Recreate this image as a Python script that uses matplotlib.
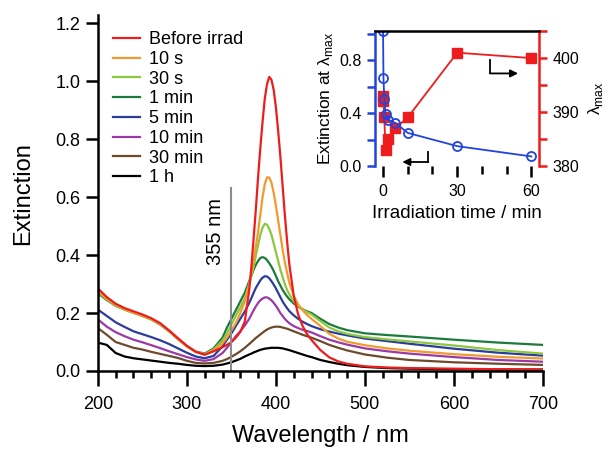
import numpy as np
import matplotlib
matplotlib.use('Agg')
import matplotlib.pyplot as plt
from matplotlib.ticker import MultipleLocator

plt.rcParams['font.family'] = ['Liberation Sans', 'DejaVu Sans']
plt.rcParams['mathtext.fontset'] = 'custom'
plt.rcParams['mathtext.rm'] = 'Liberation Sans'

# wavelength grid (nm)
wl = [200, 210, 220, 230, 240, 250, 260, 270, 280, 290, 300, 310, 320, 330, 340,
      345, 350, 355, 360, 365, 370, 372.5, 375, 377.5, 380, 382.5, 385, 387.5, 390,
      392.5, 395, 397.5, 400, 402.5, 405, 407.5, 410, 412.5, 415,
      420, 425, 430, 435, 440,
      450, 460, 470, 480, 500, 525, 550, 600, 650, 700]

before = [.285, .255, .232, .217, .206, .195, .182, .165, .140, .113, .087, .066, .056, .068, .082,
          .090, .100, .115, .135, .170, .280, .360, .460, .560, .670, .770, .860, .940, .990,
          1.015, 1.005, .970, .910, .830, .740, .640, .540, .450, .370,
          .260, .195, .155, .127, .107,
          .072, .047, .033, .025, .016, .012, .010, .008, .006, .005]
s10 = [.278, .250, .228, .213, .202, .191, .179, .162, .138, .111, .085, .066, .057, .072, .095,
       .115, .140, .165, .200, .240, .300, .340, .380, .430, .480, .540, .600, .645, .668,
       .668, .650, .615, .570, .520, .470, .420, .375, .340, .305,
       .260, .230, .210, .193, .180,
       .155, .128, .112, .101, .089, .078, .070, .058, .049, .043]
s30 = [.272, .247, .226, .212, .201, .190, .178, .161, .137, .110, .085, .066, .058, .074, .105,
       .130, .160, .190, .220, .250, .300, .330, .360, .400, .435, .470, .495, .508, .505,
       .490, .470, .440, .410, .380, .350, .325, .300, .280, .265,
       .240, .225, .213, .203, .195,
       .172, .150, .137, .128, .117, .109, .102, .088, .072, .060]
m1 = [.268, .245, .225, .212, .201, .190, .178, .160, .137, .110, .085, .067, .060, .078, .115,
      .150, .180, .210, .240, .270, .310, .330, .350, .367, .380, .390, .393, .390, .383,
      .372, .360, .345, .328, .310, .295, .280, .268, .257, .248,
      .233, .222, .213, .206, .200,
      .180, .162, .150, .141, .130, .124, .119, .108, .098, .090]
m5 = [.212, .190, .168, .152, .137, .127, .117, .106, .093, .078, .063, .050, .044, .052, .085,
      .108, .130, .155, .180, .205, .235, .252, .270, .287, .300, .313, .322, .327, .326,
      .320, .310, .298, .285, .270, .255, .240, .228, .217, .207,
      .192, .180, .170, .162, .155,
      .144, .136, .129, .123, .112, .103, .094, .077, .063, .053]
m10 = [.178, .153, .134, .120, .108, .099, .089, .079, .068, .058, .048, .040, .035, .041, .062,
       .080, .100, .120, .137, .157, .180, .195, .210, .223, .235, .244, .250, .254, .254,
       .250, .244, .235, .225, .213, .200, .190, .180, .172, .165,
       .155, .148, .142, .138, .133,
       .120, .108, .099, .091, .078, .068, .060, .048, .038, .032]
m30 = [.148, .125, .100, .090, .080, .074, .066, .059, .052, .045, .035, .028, .026, .028, .035,
       .041, .049, .058, .068, .080, .093, .100, .107, .114, .120, .126, .132, .138, .143,
       .147, .150, .152, .153, .153, .152, .150, .148, .146, .143,
       .137, .131, .125, .120, .115,
       .103, .090, .080, .071, .057, .046, .038, .030, .025, .021]
h1 = [.098, .090, .062, .050, .044, .040, .036, .032, .028, .025, .021, .018, .017, .018, .022,
      .026, .030, .036, .042, .050, .057, .060, .064, .067, .070, .073, .075, .077, .078,
      .079, .080, .080, .080, .080, .079, .078, .076, .074, .072,
      .067, .062, .057, .052, .048,
      .038, .031, .025, .020, .014, .010, .008, .006, .005, .005]

labels = ['Before irrad', '10 s', '30 s', '1 min', '5 min', '10 min', '30 min', '1 h']
colors = ['#ee1c1c', '#f29a2e', '#8dc63f', '#1b7a3c', '#2b3c9c', '#9b3aa6', '#6e4a2c', '#000000']
spectra = [before, s10, s30, m1, m5, m10, m30, h1]

# inset data
t_min = [0, 0.17, 0.5, 1, 2, 5, 10, 30, 60]
ext_max = [1.02, 0.665, 0.51, 0.39, 0.35, 0.325, 0.25, 0.15, 0.072]
lam_max = [393, 392, 389, 383, 385, 387, 389, 401, 400]

fig = plt.figure(figsize=(6.08, 4.51), dpi=100)
ax = fig.add_axes([0.161, 0.1774, 0.732, 0.789])

# red drawn last, on top
lines = {}
for i in [7, 6, 5, 4, 3, 2, 1, 0]:
    ln, = ax.plot(wl, spectra[i], color=colors[i], lw=1.6, label=labels[i],
                  solid_joinstyle='round')
    lines[i] = ln

ax.plot([350, 350], [0, 0.63], color='#8c8c8c', lw=1.5)
ax.text(332, 0.48, '355 nm', rotation=90, ha='center', va='center', fontsize=14.5)

ax.set_xlim(200, 700)
ax.set_ylim(0, 1.228)
ax.spines['top'].set_visible(False)
ax.spines['right'].set_visible(False)
for s in ['left', 'bottom']:
    ax.spines[s].set_linewidth(1.8)
ax.xaxis.set_major_locator(MultipleLocator(100))
ax.xaxis.set_minor_locator(MultipleLocator(20))
ax.yaxis.set_major_locator(MultipleLocator(0.2))
ax.yaxis.set_major_formatter(plt.FormatStrFormatter('%.1f'))
ax.tick_params(axis='both', which='major', direction='out', length=9, width=1.8, labelsize=13)
ax.tick_params(axis='x', which='minor', direction='out', length=5, width=1.8)
ax.tick_params(axis='x', which='major', length=11, pad=7)
ax.set_xlabel('Wavelength / nm', fontsize=17, labelpad=9)
ax.set_ylabel('Extinction', fontsize=17, labelpad=15)

leg = ax.legend([lines[i] for i in range(8)], labels, loc='upper left',
                bbox_to_anchor=(0.01, 0.985), frameon=False, fontsize=13,
                handlelength=1.5, handletextpad=0.5, labelspacing=0.15,
                borderaxespad=0.2)

# inset
ax_in = fig.add_axes([0.617, 0.632, 0.270, 0.299])
ax_r = ax_in.twinx()
ax_in.set_zorder(ax_r.get_zorder() + 1)
ax_in.patch.set_visible(False)

ax_r.plot(t_min, lam_max, color='#ee1c1c', marker='s', ms=6.5, lw=1.3)
ax_in.plot(t_min, ext_max, color='#2244dd', marker='o', ms=6.5, mfc='none',
           mew=1.3, lw=1.3)

ax_in.set_xlim(-3.2, 63.2)
ax_in.set_ylim(0, 1.02)
ax_r.set_ylim(380, 405)

ax_in.spines['bottom'].set_visible(False)
ax_in.spines['right'].set_visible(False)
ax_in.spines['left'].set_color('#2244dd')
ax_in.spines['left'].set_linewidth(1.8)
ax_in.spines['top'].set_linewidth(1.8)
ax_r.spines['left'].set_visible(False)
ax_r.spines['bottom'].set_visible(False)
ax_r.spines['top'].set_visible(False)
ax_r.spines['right'].set_color('#ee1c1c')
ax_r.spines['right'].set_linewidth(1.8)

ax_in.xaxis.set_major_locator(MultipleLocator(30))
ax_in.xaxis.set_minor_locator(MultipleLocator(10))
ax_in.yaxis.set_major_locator(MultipleLocator(0.4))
ax_in.yaxis.set_minor_locator(MultipleLocator(0.2))
ax_r.yaxis.set_major_locator(MultipleLocator(10))
ax_r.yaxis.set_minor_locator(MultipleLocator(5))

ax_in.tick_params(axis='x', which='both', direction='out', width=1.8, labelsize=11.5, pad=5)
ax_in.tick_params(axis='x', which='major', length=8)
ax_in.tick_params(axis='x', which='minor', length=6)
ax_in.tick_params(axis='y', which='both', direction='out', width=1.8, color='#2244dd',
                  labelsize=11.5, length=6)
ax_r.tick_params(axis='y', which='both', direction='out', width=1.8, color='#ee1c1c',
                 labelsize=11.5, length=6)
ax_in.yaxis.set_major_formatter(plt.FormatStrFormatter('%.1f'))

ax_in.set_xlabel('Irradiation time / min', fontsize=13.5, labelpad=4)
ax_in.set_ylabel('Extinction at λ$_{\\rm max}$', fontsize=12.5, labelpad=3)
ax_r.set_ylabel('λ$_{\\rm max}$', fontsize=12.5, labelpad=5)

# arrows pointing to the relevant axes
ax_in.plot([18.2, 18.2], [0.106, 0.03], color='black', lw=1.3)
ax_in.annotate('', xy=(7.8, 0.03), xytext=(18.3, 0.03),
               arrowprops=dict(arrowstyle='-|>', color='black', lw=1.3,
                               mutation_scale=11, shrinkA=0, shrinkB=0))
ax_in.plot([43.4, 43.4], [0.80, 0.70], color='black', lw=1.3)
ax_in.annotate('', xy=(54.6, 0.70), xytext=(43.3, 0.70),
               arrowprops=dict(arrowstyle='-|>', color='black', lw=1.3,
                               mutation_scale=11, shrinkA=0, shrinkB=0))

fig.savefig('out.png', dpi=100)
